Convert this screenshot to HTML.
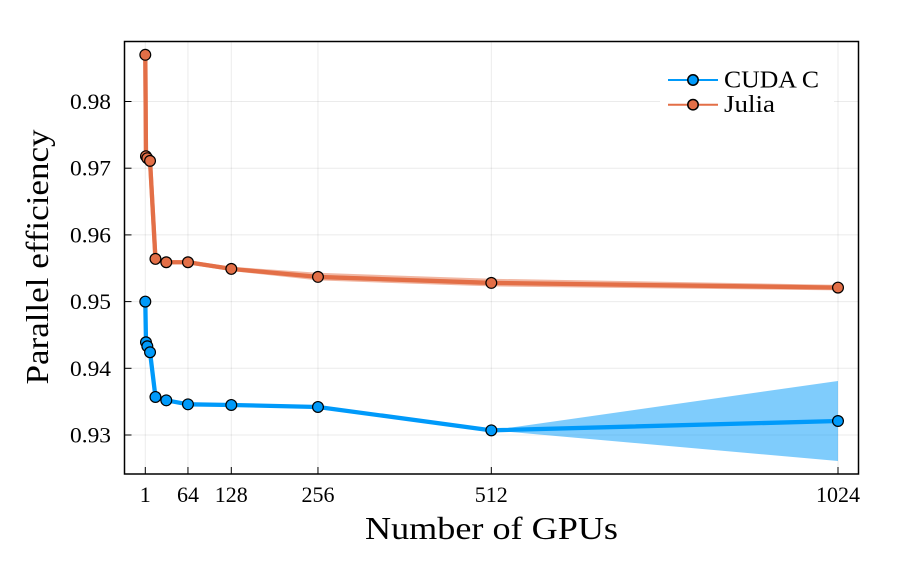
<!DOCTYPE html>
<html>
<head>
<meta charset="utf-8">
<style>
html,body{margin:0;padding:0;background:#fff;}
svg{display:block;}
text{font-family:"Liberation Serif",serif;fill:#000;}
</style>
</head>
<body>
<svg id="chart" xmlns="http://www.w3.org/2000/svg" width="900" height="570" viewBox="0 0 900 570"></svg>
<script>
const gpus = [1, 2, 4, 8, 16, 32, 64, 128, 256, 512, 1024];
const cudaValues = [0.9500, 0.9439, 0.9433, 0.9424, 0.9357, 0.9352, 0.9346, 0.9345, 0.9342, 0.9307, 0.9321];
const cudaLower = [0.9500, 0.9439, 0.9433, 0.9424, 0.9357, 0.9352, 0.9346, 0.9345, 0.9342, 0.9307, 0.9261];
const cudaUpper = [0.9500, 0.9439, 0.9433, 0.9424, 0.9357, 0.9352, 0.9346, 0.9345, 0.9342, 0.9307, 0.9381];
const juliaValues = [0.9870, 0.9718, 0.9715, 0.9711, 0.9564, 0.9559, 0.9559, 0.9549, 0.9537, 0.9528, 0.9521];
const juliaLower = [0.9870, 0.9718, 0.9715, 0.9711, 0.9564, 0.9559, 0.9559, 0.9549, 0.9535, 0.9526, 0.9520];
const juliaUpper = [0.9870, 0.9718, 0.9715, 0.9711, 0.9564, 0.9559, 0.9559, 0.9549, 0.9540, 0.9531, 0.9522];
const xTickValues = [1, 64, 128, 256, 512, 1024];
const yTickValues = [0.93, 0.94, 0.95, 0.96, 0.97, 0.98];
const yTickLabels = ["0.93", "0.94", "0.95", "0.96", "0.97", "0.98"];

const NS = "http://www.w3.org/2000/svg";
const svg = document.getElementById("chart");
const frame = {left: 124.5, right: 858.5, top: 41.5, bottom: 474};
function xScale(v) { return 145.3 + (v - 1) * (838 - 145.3) / 1023; }
function yScale(v) { return 435 - (v - 0.93) * (435 - 101.5) / 0.05; }
function make(tag, attrs, text) {
  const el = document.createElementNS(NS, tag);
  for (const k in attrs) el.setAttribute(k, attrs[k]);
  if (text !== undefined) el.textContent = text;
  svg.appendChild(el);
  return el;
}
function pathFrom(xs, ys) {
  return xs.map((x, i) => (i ? "L" : "M") + xScale(x).toFixed(2) + " " + yScale(ys[i]).toFixed(2)).join(" ");
}
function ribbonFrom(xs, low, up) {
  const rx = xs.slice().reverse();
  const ru = up.slice().reverse();
  return pathFrom(xs, low) + " " + rx.map((x, i) => "L" + xScale(x).toFixed(2) + " " + yScale(ru[i]).toFixed(2)).join(" ") + " Z";
}

xTickValues.forEach(v => {
  const g = make("line", {x1: xScale(v), x2: xScale(v), y1: frame.top, y2: frame.bottom, stroke: "#000", "stroke-opacity": 0.08, "stroke-width": 1});
  
  
});
yTickValues.forEach(v => {
  const g = make("line", {x1: frame.left, x2: frame.right, y1: yScale(v), y2: yScale(v), stroke: "#000", "stroke-opacity": 0.08, "stroke-width": 1});
  
  
});

const COLORS = {cuda: "#009AFA", julia: "#E36F47"};

const cudaRibbon = make("path", {d: ribbonFrom(gpus, cudaLower, cudaUpper), fill: COLORS.cuda, "fill-opacity": 0.5, stroke: "none"});


const juliaRibbon = make("path", {d: ribbonFrom(gpus, juliaLower, juliaUpper), fill: COLORS.julia, "fill-opacity": 0.5, stroke: COLORS.julia, "stroke-opacity": 0.5, "stroke-width": 4.3});



const cudaLine = make("path", {d: pathFrom(gpus, cudaValues), fill: "none", stroke: COLORS.cuda, "stroke-width": 4.3, "stroke-linejoin": "round"});


const juliaLine = make("path", {d: pathFrom(gpus, juliaValues), fill: "none", stroke: COLORS.julia, "stroke-width": 4.3, "stroke-linejoin": "round"});



gpus.forEach((x, i) => {
  const p = make("circle", {cx: xScale(x), cy: yScale(cudaValues[i]), r: 5.4, fill: COLORS.cuda, stroke: "#000", "stroke-width": 1.2});
  
  
});
gpus.forEach((x, i) => {
  const p = make("circle", {cx: xScale(x), cy: yScale(juliaValues[i]), r: 5.4, fill: COLORS.julia, stroke: "#000", "stroke-width": 1.2});
  
  
});

const box = make("rect", {x: frame.left, y: frame.top, width: frame.right - frame.left, height: frame.bottom - frame.top, fill: "none", stroke: "#000", "stroke-width": 1.5});



xTickValues.forEach(v => {
  const t = make("line", {x1: xScale(v), x2: xScale(v), y1: frame.bottom, y2: frame.bottom - 7, stroke: "#000", "stroke-width": 1});
  
  
  const s = String(v);
  const l = make("text", {x: xScale(v), y: 502, "text-anchor": "middle", "font-size": 22, textLength: s.length * 11, lengthAdjust: "spacingAndGlyphs"}, s);
  
  
});
yTickValues.forEach((v, i) => {
  const t = make("line", {x1: frame.left, x2: frame.left + 7, y1: yScale(v), y2: yScale(v), stroke: "#000", "stroke-width": 1});
  
  
  const l = make("text", {x: 90.5, y: yScale(v) + 7.5, "text-anchor": "middle", "font-size": 22, textLength: 41, lengthAdjust: "spacingAndGlyphs"}, yTickLabels[i]);
  
  
});

const xTitle = make("text", {x: 491.5, y: 539, "text-anchor": "middle", "font-size": 32, textLength: 253, lengthAdjust: "spacingAndGlyphs"}, "Number of GPUs");


const yTitle = make("text", {x: 0, y: 0, transform: "translate(48 257) rotate(-90)", "text-anchor": "middle", "font-size": 32, textLength: 255, lengthAdjust: "spacingAndGlyphs"}, "Parallel efficiency");



const legendBg = make("rect", {x: 660, y: 64, width: 174, height: 56, fill: "#fff"});



const legendLabels = ["CUDA C", "Julia"];
const legendWidths = [95, 51];
const legendColors = [COLORS.cuda, COLORS.julia];
legendLabels.forEach((name, i) => {
  const y = 80 + i * 24.7;
  const ln = make("line", {x1: 668, x2: 718, y1: y, y2: y, stroke: legendColors[i], "stroke-width": 2});
  
  
  const mk = make("circle", {cx: 693, cy: y, r: 5.2, fill: legendColors[i], stroke: "#000", "stroke-width": 1.5});
  
  
  const tx = make("text", {x: 724, y: y + 7.5, "font-size": 24, textLength: legendWidths[i], lengthAdjust: "spacingAndGlyphs"}, name);
  
  
});
</script>
</body>
</html>
